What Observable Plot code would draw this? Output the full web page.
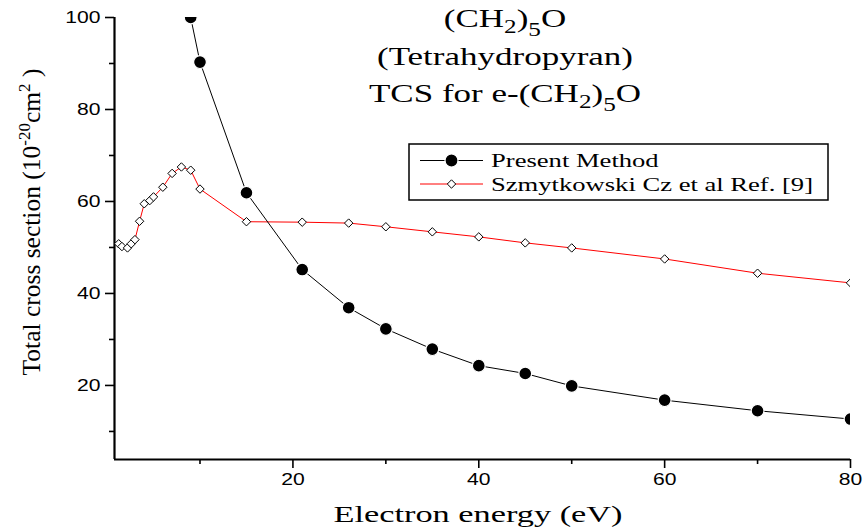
<!DOCTYPE html>
<html><head><meta charset="utf-8">
<script src="https://cdn.jsdelivr.net/npm/d3@7"></script>
<script src="https://cdn.jsdelivr.net/npm/@observablehq/plot@0.6"></script>
<style>
html,body{margin:0;padding:0;background:#fff;}
#chart{width:866px;height:529px;}
</style></head><body><div id="chart"></div>
<script>
// ---- data ----
const presentEnergy = [9, 10, 15, 21, 26, 30, 35, 40, 45, 50, 60, 70, 80];
const presentTCS    = [100, 90.3, 61.9, 45.2, 36.9, 32.3, 27.9, 24.3, 22.6, 19.9, 16.8, 14.5, 12.7];
const szmEnergy = [1.25, 1.6, 2.2, 2.6, 3.0, 3.5, 4.0, 4.6, 5.0, 6.0, 7.0, 8.0, 9.0, 10, 15, 21, 26, 30, 35, 40, 45, 50, 60, 70, 80];
const szmTCS    = [50.8, 50.2, 49.9, 50.8, 51.7, 55.7, 59.5, 60.2, 61.0, 63.1, 66.1, 67.5, 66.8, 62.7, 55.6, 55.5, 55.3, 54.5, 53.4, 52.3, 51.0, 49.9, 47.5, 44.4, 42.3];
const xMajorTicks = [20, 40, 60, 80];
const xMinorTicks = [10, 30, 50, 70];
const yMajorTicks = [20, 40, 60, 80, 100];
const yMinorTicks = [10, 30, 50, 70, 90];
const xDomain = [0.8, 80];
const yDomain = [3.9, 100];
const seriesNames = ["Present Method", "Szmytkowski Cz et al Ref. [9]"];
const titleLines = ["(Tetrahydropyran)"];
const xLabel = "Electron energy (eV)";

const present = presentEnergy.map((e, i) => ({e, v: presentTCS[i]}));
const szm = szmEnergy.map((e, i) => ({e, v: szmTCS[i]}));

const SX = 1.4;   // horizontal widening of the reference's text
const DIAMOND_R = 3.8;

const plot = Plot.plot({
  width: 866, height: 529,
  marginLeft: 114, marginRight: 16, marginTop: 17, marginBottom: 70,
  style: {background: "white", fontFamily: "'Liberation Sans', Arial, sans-serif", fontSize: "16px", color: "black", overflow: "visible"},
  x: {domain: xDomain},
  y: {domain: yDomain},
  marks: [
    Plot.axisX(xMajorTicks, {tickSize: 9, tickPadding: 5, strokeWidth: 1.6, label: null, tickFormat: d => String(d)}),
    Plot.axisX(xMinorTicks, {tickSize: 5, strokeWidth: 1.6, label: null, tickFormat: () => ""}),
    Plot.axisY(yMajorTicks, {tickSize: 9, tickPadding: 5, strokeWidth: 1.6, label: null, tickFormat: d => String(d)}),
    Plot.axisY(yMinorTicks, {tickSize: 5, strokeWidth: 1.6, label: null, tickFormat: () => ""}),
    Plot.ruleX([xDomain[0]], {y1: yDomain[0], y2: yDomain[1], stroke: "black", strokeWidth: 2.2}),
    Plot.ruleY([yDomain[0]], {x1: xDomain[0], x2: xDomain[1], stroke: "black", strokeWidth: 2.2}),
    Plot.line(szm, {x: "e", y: "v", stroke: "#ff0000", strokeWidth: 1, clip: true}),
    Plot.dot(szm, {x: "e", y: "v", symbol: "diamond2", r: DIAMOND_R, fill: "white", stroke: "black", strokeWidth: 1, clip: true}),
    Plot.line(present, {x: "e", y: "v", stroke: "black", strokeWidth: 1, clip: true}),
    Plot.dot(present, {x: "e", y: "v", r: 6.4, fill: "black", stroke: "white", strokeWidth: 1.2, clip: true})
  ]
});
document.getElementById("chart").appendChild(plot);

// widen tick labels like the reference
plot.querySelectorAll('g[aria-label$="tick label"] text').forEach(t => {
  const tr = t.getAttribute("transform") || "";
  t.setAttribute("transform", tr + " scale(1.32,1)");
});

const svg = d3.select(plot);
const serif = "'Liberation Serif', 'Times New Roman', serif";

function richText(g, x, y, parts, opts) {
  const t = g.append("text")
    .attr("transform", `translate(${x},${y})` + (opts.rotate ? ` rotate(${opts.rotate})` : "") + (opts.scale ? ` scale(${opts.scale},1)` : ""))
    .attr("text-anchor", opts.anchor || "middle")
    .attr("font-family", serif)
    .attr("font-size", opts.size)
    .attr("fill", "black");
  let shift = 0;
  parts.forEach(p => {
    const s = t.append("tspan").text(p.t);
    const target = p.dy || 0;
    if (target !== shift) s.attr("dy", target - shift);
    shift = target;
    if (p.fs) s.attr("font-size", p.fs);
  });
  return t;
}

// title
const tg = svg.append("g");
richText(tg, 505, 27, [{t: "(CH"}, {t: "2", dy: 6, fs: 18}, {t: ")"}, {t: "5", dy: 9, fs: 18}, {t: "O"}], {size: 25, scale: SX});
richText(tg, 505, 65, [{t: titleLines[0]}], {size: 25, scale: SX});
richText(tg, 505, 102, [{t: "TCS for e-(CH"}, {t: "2", dy: 6, fs: 18}, {t: ")"}, {t: "5", dy: 9, fs: 18}, {t: "O"}], {size: 25, scale: SX});

// axis titles
richText(svg, 478, 522, [{t: xLabel}], {size: 24, scale: 1.43});
richText(svg, 40, 222, [{t: "Total cross section (10"}, {t: "-20", dy: -10, fs: 17}, {t: "cm"}, {t: "2", dy: -10, fs: 17}, {t: " )"}], {size: 25.5, rotate: -90});

// legend
const lg = svg.append("g");
lg.append("rect").attr("x", 409).attr("y", 144).attr("width", 419).attr("height", 56)
  .attr("fill", "white").attr("stroke", "black").attr("stroke-width", 1.5);
lg.append("line").attr("x1", 420).attr("x2", 483).attr("y1", 160.5).attr("y2", 160.5).attr("stroke", "black").attr("stroke-width", 1);
lg.append("circle").attr("cx", 451.5).attr("cy", 160.5).attr("r", 6.5).attr("fill", "black").attr("stroke", "white").attr("stroke-width", 1.2);
lg.append("line").attr("x1", 420).attr("x2", 483).attr("y1", 184).attr("y2", 184).attr("stroke", "#ff0000").attr("stroke-width", 1);
lg.append("path").attr("d", d3.symbol(d3.symbolDiamond2, DIAMOND_R * DIAMOND_R * Math.PI)()).attr("transform", "translate(451.5,184)")
  .attr("fill", "white").attr("stroke", "black").attr("stroke-width", 1);
richText(lg, 491, 167, [{t: seriesNames[0]}], {size: 19, anchor: "start", scale: SX});
richText(lg, 491, 191, [{t: seriesNames[1]}], {size: 19, anchor: "start", scale: SX});
</script>
</body></html>
